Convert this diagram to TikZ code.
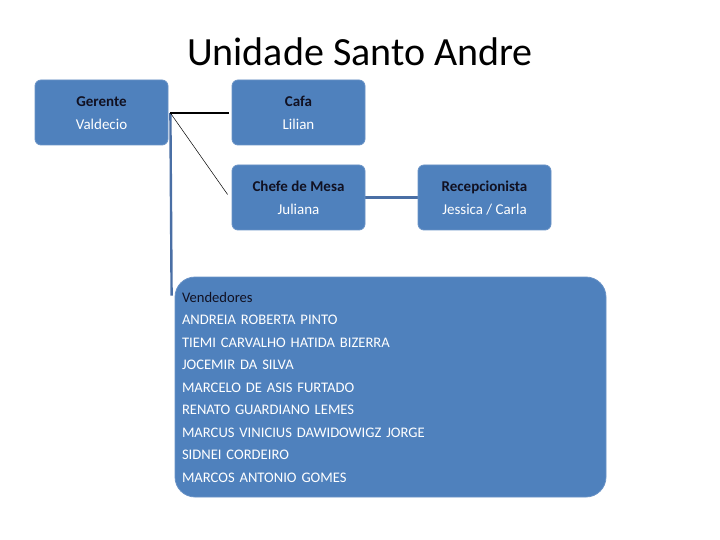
\documentclass[tikz,border=0pt]{standalone}
\usepackage{fontspec}
\setmainfont{Carlito}
\usetikzlibrary{calc,backgrounds}
\definecolor{boxblue}{HTML}{4F81BD}
\definecolor{boxedge}{HTML}{6A93C6}
\definecolor{linkblue}{HTML}{4A6FA5}
\definecolor{labeldark}{HTML}{111122}
\newcommand{\rolelines}[2]{\rule{0pt}{15.5pt}{\bfseries\color{labeldark}#1}\\#2\rule[-4pt]{0pt}{4pt}}
\tikzset{
  rolebox/.style={draw=boxedge, line width=0.8pt, fill=boxblue, rounded corners=6pt,
    minimum width=133pt, minimum height=65pt, align=center, inner sep=0pt,
    font=\fontsize{15}{23}\selectfont, text=white},
  bigbox/.style={draw=boxedge, line width=0.8pt, fill=boxblue, rounded corners=20pt,
    minimum width=431pt, minimum height=220pt, align=left, inner xsep=7pt, inner ysep=0pt,
    text width=417pt, font=\fontsize{14.6}{22.5}\selectfont, text=white},
  bluelink/.style={draw=linkblue, line width=2.6pt},
}
\begin{document}
\begin{tikzpicture}[x=1pt,y=-1pt]
\useasboundingbox (0,0) rectangle (720,540);
\node[font=\fontsize{40}{44}\selectfont, text=black] (title) at (360,52) {Unidade Santo Andre};
\node[rolebox] (ger) at (101.5,112.5) {\rolelines{Gerente}{Valdecio}};
\node[rolebox] (cafa) at (298.5,112.5) {\rolelines{Cafa}{Lilian}};
\node[rolebox] (chefe) at (298.5,197.5) {\rolelines{Chefe de Mesa}{Juliana}};
\node[rolebox] (recep) at (484.5,197.5) {\rolelines{Recepcionista}{Jessica / Carla}};
\node[bigbox] (vend) at (390.5,387) {{\color{labeldark}Vendedores}\\
ANDREIA ROBERTA PINTO\\
TIEMI CARVALHO HATIDA BIZERRA\\
JOCEMIR DA SILVA\\
MARCELO DE ASIS FURTADO\\
RENATO GUARDIANO LEMES\\
MARCUS VINICIUS DAWIDOWIGZ JORGE\\
SIDNEI CORDEIRO\\
MARCOS ANTONIO GOMES};
\coordinate (hub) at ($(ger.east)+(2,0.5)$);
\coordinate (vend-in) at ($(vend.north west)+(-3,19)$);
\coordinate (cafa-in) at ($(cafa.west)+(-3,0.5)$);
\coordinate (chefe-in) at ($(chefe.west)+(-4,-3)$);
\begin{scope}[on background layer]
\draw[bluelink, line width=2.4pt] (hub) -- (vend-in);
\draw[black, line width=2pt] (hub) -- (cafa-in);
\draw[black, line width=0.5pt] (hub) -- (chefe-in);
\draw[bluelink, line width=3pt] (chefe.east) -- (recep.west);
\end{scope}
\end{tikzpicture}
\end{document}
